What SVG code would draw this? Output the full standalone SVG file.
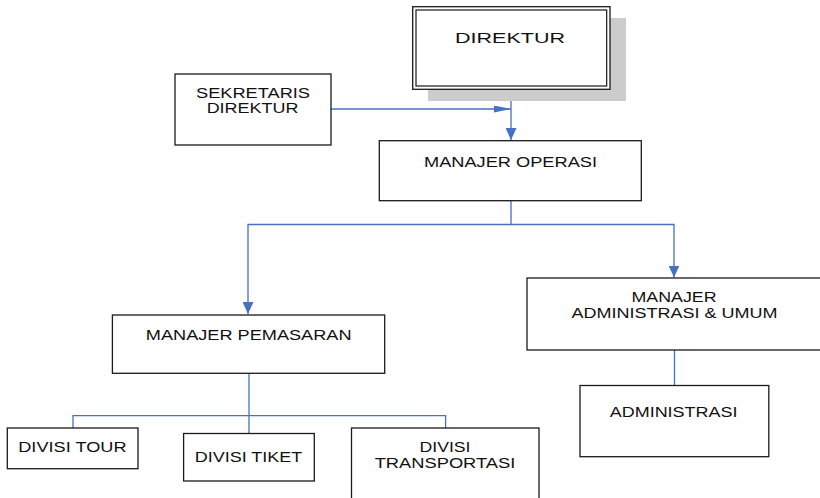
<svg xmlns="http://www.w3.org/2000/svg" width="820" height="498" viewBox="0 0 820 498">
<style>
.box{fill:#ffffff;stroke:#1a1a1a;stroke-width:1.3}
.lbl{font-family:"Liberation Sans",Arial,sans-serif;font-size:14px;fill:#111;text-anchor:middle}
.conn{fill:none;stroke:#4472c4;stroke-width:1.3}
</style>
<defs>
<marker id="av" markerUnits="userSpaceOnUse" viewBox="0 0 12 11" refX="12" refY="5.5" markerWidth="12" markerHeight="11" orient="auto">
<path d="M0,0 L12,5.5 L0,11 Z" fill="#4472c4"/>
</marker>
<marker id="ah" markerUnits="userSpaceOnUse" viewBox="0 0 17 7" refX="17" refY="3.5" markerWidth="17" markerHeight="7" orient="auto">
<path d="M0,0 L17,3.5 L0,7 Z" fill="#4472c4"/>
</marker>
</defs>
<rect width="820" height="498" fill="#ffffff"/>

<g id="connectors">
<path class="conn" d="M511,89 V140" marker-end="url(#av)"/>
<path class="conn" d="M331,109 H511" marker-end="url(#ah)"/>
<path class="conn" d="M511,201 V224.5 H248 V314" marker-end="url(#av)"/>
<path class="conn" d="M511,224.5 H674 V277.5" marker-end="url(#av)"/>
<path class="conn" d="M249,373 V433.5"/>
<path class="conn" d="M73,428 V415.7 H445.6 V428"/>
<path class="conn" d="M674.5,350 V385.5"/>
</g>

<g id="direktur">
<rect x="428" y="18" width="198" height="83" fill="#cccccc"/>
<rect x="412.7" y="6.7" width="197.3" height="82.6" class="box"/>
<rect x="416" y="10" width="190.7" height="76" fill="none" stroke="#1a1a1a" stroke-width="1.2"/>
<text class="lbl" x="510" y="43" style="font-size:15.5px" textLength="110" lengthAdjust="spacingAndGlyphs">DIREKTUR</text>
</g>

<g id="sekretaris">
<rect x="175" y="74" width="156" height="71" class="box"/>
<text class="lbl" x="253" y="98.3" textLength="114" lengthAdjust="spacingAndGlyphs">SEKRETARIS</text>
<text class="lbl" x="252.5" y="113.3" textLength="91.7" lengthAdjust="spacingAndGlyphs">DIREKTUR</text>
</g>

<g id="manajer-operasi">
<rect x="379.3" y="140.7" width="262" height="60" class="box"/>
<text class="lbl" x="510.5" y="166.7" textLength="173" lengthAdjust="spacingAndGlyphs">MANAJER OPERASI</text>
</g>

<g id="manajer-pemasaran">
<rect x="112.4" y="315" width="272.3" height="58.3" class="box"/>
<text class="lbl" x="248.7" y="340" textLength="205.7" lengthAdjust="spacingAndGlyphs">MANAJER PEMASARAN</text>
</g>

<g id="manajer-administrasi">
<rect x="527" y="278" width="294" height="72" class="box"/>
<text class="lbl" x="674" y="301.7" textLength="85" lengthAdjust="spacingAndGlyphs">MANAJER</text>
<text class="lbl" x="674.6" y="318.3" textLength="206" lengthAdjust="spacingAndGlyphs">ADMINISTRASI &amp; UMUM</text>
</g>

<g id="divisi-tour">
<rect x="7.3" y="428" width="130.7" height="40.7" class="box"/>
<text class="lbl" x="72.4" y="451.7" textLength="108.3" lengthAdjust="spacingAndGlyphs">DIVISI TOUR</text>
</g>

<g id="divisi-tiket">
<rect x="183.6" y="433.5" width="130.7" height="47.5" class="box"/>
<text class="lbl" x="248.5" y="461.7" textLength="107.7" lengthAdjust="spacingAndGlyphs">DIVISI TIKET</text>
</g>

<g id="divisi-transportasi">
<rect x="351.5" y="428" width="187.5" height="80" class="box"/>
<text class="lbl" x="445" y="451.7" textLength="51" lengthAdjust="spacingAndGlyphs">DIVISI</text>
<text class="lbl" x="445" y="467.7" textLength="140.7" lengthAdjust="spacingAndGlyphs">TRANSPORTASI</text>
</g>

<g id="administrasi">
<rect x="580" y="385.5" width="188.8" height="71.2" class="box"/>
<text class="lbl" x="673.6" y="416.7" textLength="127.6" lengthAdjust="spacingAndGlyphs">ADMINISTRASI</text>
</g>
</svg>
